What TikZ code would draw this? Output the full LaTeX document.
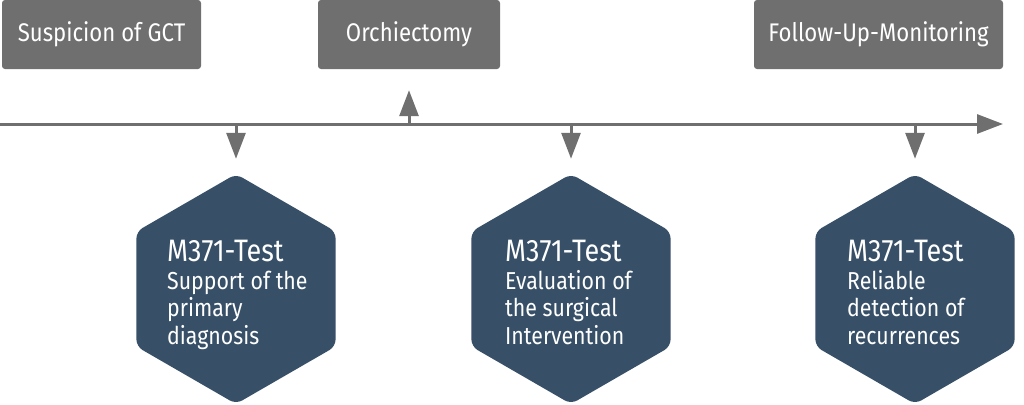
\documentclass[tikz,border=0pt]{standalone}
\usepackage{fontspec}
\setmainfont{Fira Sans}[FakeStretch=0.87]
\usetikzlibrary{arrows.meta, positioning, shapes.geometric}
\definecolor{stepgray}{RGB}{111,111,111}
\definecolor{hexblue}{RGB}{55,80,104}

\begin{document}
\begin{tikzpicture}[x=1pt, y=-1pt,
		phase/.style={fill=stepgray, text=white, rounded corners=3pt, minimum height=69pt,
			inner sep=0pt, font=\fontsize{25.5}{30}\selectfont},
		hexa/.style={regular polygon, regular polygon sides=6, shape border rotate=30,
			fill=hexblue, minimum size=230pt, inner sep=0pt, rounded corners=7pt},
		hextext/.style={text=white, align=left, inner sep=0pt, anchor=north west,
			font=\fontsize{24.5}{27.5}\selectfont},
		tick/.style={-{Triangle[length=26pt, width=19pt]}, stepgray, line width=3pt}]
	\useasboundingbox (0,0) rectangle (1024,404);

	% phases on top
	\node[phase, minimum width=199pt] (gct) at (101.5,34.5) {Suspicion of GCT};
	\node[phase, minimum width=182pt] (orch) at (409,34.5) {Orchiectomy};
	\node[phase, minimum width=249pt] (follow) at (878.5,34.5) {Follow-Up-Monitoring};

	% time line
	\coordinate (tstart) at (0,124);
	\coordinate (tend) at (1003,124);
	\draw[tick] (tstart) -- (tend);

	\coordinate (t1) at (236,124);
	\coordinate (t2) at (409,124);
	\coordinate (t3) at (571,124);
	\coordinate (t4) at (915,124);

	% tests
	\node[hexa] (h1) at (236,289) {};
	\node[hexa] (h2) at (571,289) {};
	\node[hexa] (h3) at (915,289) {};

	\node[hextext] (l1) at ([xshift=-69pt, yshift=49pt]h1.center)
		{{\fontsize{31}{27.5}\selectfont M371-Test}\\Support of the\\primary\\diagnosis};
	\node[hextext] (l2) at ([xshift=-66pt, yshift=49pt]h2.center)
		{{\fontsize{31}{27.5}\selectfont M371-Test}\\Evaluation of\\the surgical\\Intervention};
	\node[hextext] (l3) at ([xshift=-68pt, yshift=49pt]h3.center)
		{{\fontsize{31}{27.5}\selectfont M371-Test}\\Reliable\\detection of\\recurrences};

	\draw[tick, shorten >=15pt] (t1) -- (h1.north);
	\draw[tick, shorten >=15pt] (t3) -- (h2.north);
	\draw[tick, shorten >=15pt] (t4) -- (h3.north);
	\draw[tick, shorten >=21pt] (t2) -- (orch.south);
\end{tikzpicture}
\end{document}
